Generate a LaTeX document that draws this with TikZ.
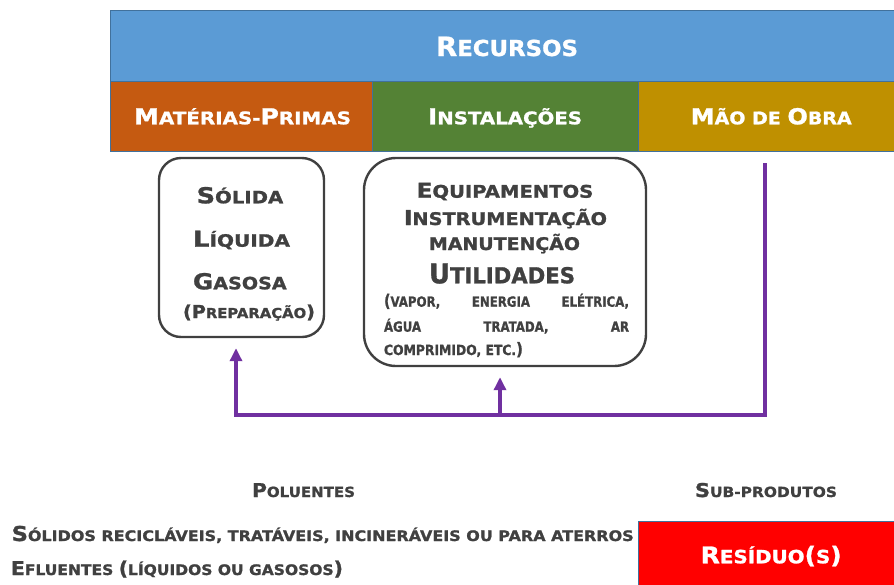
\documentclass[tikz,border=0pt]{standalone}
\usepackage{fontspec}
\setmainfont{DejaVu Sans}[BoldFont={DejaVu Sans Bold}, BoldFeatures={FakeBold=1.2}]
\usetikzlibrary{arrows.meta}
\definecolor{cblue}{HTML}{5B9BD5}
\definecolor{corange}{HTML}{C55A11}
\definecolor{cgreen}{HTML}{548235}
\definecolor{cgold}{HTML}{BF9000}
\definecolor{cpurple}{HTML}{7030A0}
\definecolor{cred}{HTML}{FF0000}
\definecolor{cgray}{HTML}{404040}
\definecolor{cedge}{HTML}{41719C}
\newsavebox\tbox
\newcommand\fitw[2]{\sbox\tbox{#2}\pgfmathsetmacro\fitsx{#1/\wd\tbox}\scalebox{\fitsx}[1]{\usebox\tbox}}
\newcommand\fs[1]{\fontsize{#1pt}{#1pt}\selectfont}
\tikzset{
  lbl/.style={inner sep=0pt, outer sep=0pt, anchor=base west, font=\bfseries},
  wlbl/.style={lbl, text=white},
  glbl/.style={lbl, text=cgray},
  bar/.style={draw=cedge, line width=0.8pt, inner sep=0pt, outer sep=0pt},
  rbox/.style={draw=cgray, line width=2.4pt, inner sep=0pt},
  pline/.style={draw=cpurple, line width=3.5pt, line join=miter},
  tip/.style={-{Triangle[length=13pt,width=12pt]}, shorten >=10pt},
}
\begin{document}
\begin{tikzpicture}[x=1pt,y=-1pt]
\useasboundingbox (0,0) rectangle (894,584);
% top bars
\node[bar, fill=cblue, minimum width=786pt, minimum height=71pt] (rec) at (503,45.5) {};
\node[bar, fill=corange, minimum width=262pt, minimum height=70pt] (mp) at (241,116) {};
\node[bar, fill=cgreen, minimum width=266pt, minimum height=70pt] (ins) at (505,116) {};
\node[bar, fill=cgold, minimum width=258pt, minimum height=70pt] (mo) at (767,116) {};
\node[wlbl] (trec) at (436,56) {\fitw{142}{\fs{26.5}R\fs{22}ECURSOS}};
\node[wlbl] (tmp) at (134,124.3) {\fitw{217}{\fs{22}M\fs{17.4}ATÉRIAS-\fs{22}P\fs{17.4}RIMAS}};
\node[wlbl] (tins) at (428,124.3) {\fitw{154}{\fs{22}I\fs{17.4}NSTALAÇÕES}};
\node[wlbl] (tmo) at (690.7,124.3) {\fitw{161}{\fs{22}M\fs{17.4}ÃO DE \fs{22}O\fs{17.4}BRA}};
% rounded boxes
\node[rbox, rounded corners=22pt, minimum width=165pt, minimum height=179pt] (lbox) at (241.5,247.5) {};
\node[rbox, rounded corners=32pt, minimum width=282pt, minimum height=208pt] (rbx) at (505,262) {};
\node[glbl] (t1) at (196.7,203.3) {\fitw{86.6}{\fs{22}S\fs{17}ÓLIDA}};
\node[glbl] (t2) at (193,246.7) {\fitw{97}{\fs{22}L\fs{17}ÍQUIDA}};
\node[glbl] (t3) at (193,289.3) {\fitw{93.7}{\fs{22}G\fs{17}ASOSA}};
\node[glbl] (t4) at (183,318) {\fitw{132}{\fs{17.8}(P\fs{13.7}REPARAÇÃO\fs{17.8})}};
\node[glbl] (u1) at (416.7,197.7) {\fitw{176.6}{\fs{20.5}E\fs{17.4}QUIPAMENTOS}};
\node[glbl] (u2) at (404,225) {\fitw{203}{\fs{20.5}I\fs{17.4}NSTRUMENTAÇÃO}};
\node[glbl] (u3) at (429,250) {\fitw{151}{\fs{17.4}MANUTENÇÃO}};
\node[glbl] (u4) at (429,283.3) {\fitw{146}{\fs{27}U\fs{22}TILIDADES}};
\node[glbl] (u5) at (384,306.7) {\scalebox{0.84}[1]{\hbox to 291.7pt{\fs{17}(\fs{14}VAPOR,\hfill ENERGIA\hfill ELÉTRICA,}}};
\node[glbl] (u6) at (384,331.7) {\scalebox{0.84}[1]{\hbox to 291.7pt{\fs{14}ÁGUA\hfill TRATADA,\hfill AR}}};
\node[glbl] (u7) at (384,355) {\fitw{139}{\fs{14}COMPRIMIDO, ETC.\fs{17})}};
% purple connectors
\coordinate (p0) at (765,163);
\coordinate (p1) at (765,415);
\coordinate (p2) at (236,415);
\coordinate (p3) at (500,415);
\draw[pline, tip] (p0) -- (p1) -- (p2) -- (p2 |- lbox.south);
\draw[pline, tip] (p3) -- (p3 |- rbx.south);
% bottom
\node[glbl] (pol) at (252,497) {\fitw{103}{\fs{19}P\fs{14}OLUENTES}};
\node[glbl] (sub) at (695,497) {\fitw{142}{\fs{19}S\fs{14}UB-PRODUTOS}};
\node[glbl] (b1) at (11.7,541) {\fitw{622}{\fs{20.5}S\fs{14.5}ÓLIDOS RECICLÁVEIS, TRATÁVEIS, INCINERÁVEIS OU PARA ATERROS}};
\node[glbl] (b2) at (11,575) {\fitw{332}{\fs{19}E\fs{14.5}FLUENTES \fs{19}(\fs{14.5}LÍQUIDOS OU GASOSOS\fs{19})}};
\node[bar, fill=cred, minimum width=258pt, minimum height=66pt] (res) at (767,554) {};
\node[wlbl] (tres) at (700.7,563.3) {\fitw{141}{\fs{23}R\fs{18.3}ESÍDUO\fs{23}(\fs{18.3}S\fs{23})}};
\end{tikzpicture}
\end{document}
